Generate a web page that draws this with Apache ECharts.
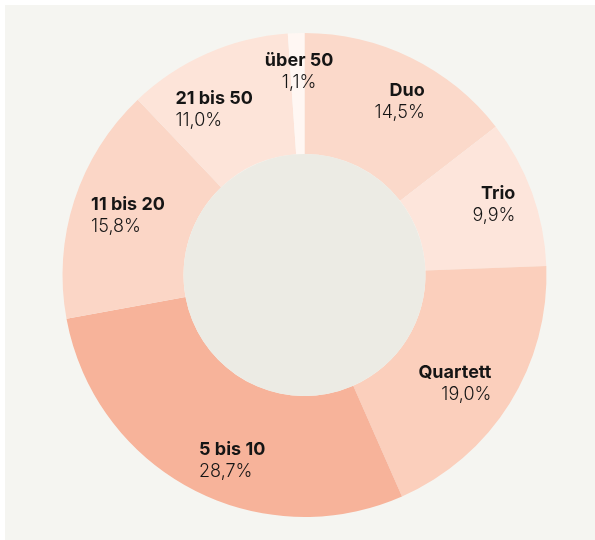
<!DOCTYPE html>
<html>
<head>
<meta charset="utf-8">
<script src="https://cdn.jsdelivr.net/npm/echarts@6/dist/echarts.min.js"></script>
<style>
  html, body { margin: 0; padding: 0; background: #fff; }
  #chart { position: absolute; left: 5px; top: 5px; width: 590px; height: 535px; }
</style>
</head>
<body>
<div id="chart"></div>
<script>
// Anteile nach Gruppengröße
var categories = ['Duo', 'Trio', 'Quartett', '5 bis 10', '11 bis 20', '21 bis 50', 'über 50']
var shares = [14.5, 9.9, 19.0, 28.7, 15.8, 11.0, 1.1]
var colors = ['#fbd9ca', '#fde5db', '#fbcfbc', '#f7b39a', '#fbd6c6', '#fde4d9', '#fff7f3']
// label placement tweaks (align of lines, offset from slice middle)
var labelAlign = ['r', 'r', 'r', 'l', 'l', 'l', 'c']
var labelOffset = [[14, -8], [16, -7], [-6, 11], [14, 23], [-1, -2], [-16, 3], [1, -19]]

var chart = echarts.init(document.getElementById('chart'))

var textBase = { fontFamily: 'Inter', fontSize: 18, lineHeight: 22, color: '#151515' }
var rich = {}
;['l', 'r', 'c'].forEach(function (a) {
  var al = a === 'l' ? 'left' : (a === 'r' ? 'right' : 'center')
  rich['n' + a] = Object.assign({}, textBase, { fontWeight: 'bold', align: al })
  rich['v' + a] = Object.assign({}, textBase, { fontWeight: 300, align: al })
})

var pieData = categories.map(function (name, i) {
  return {
    name: name,
    value: shares[i],
    itemStyle: { color: colors[i] },
    label: { offset: labelOffset[i] }
  }
})

chart.setOption({
  backgroundColor: '#f5f5f1',
  animation: false,
  series: [{
    type: 'pie',
    center: [299.5, 270],
    radius: [121, 242],
    startAngle: 90,
    clockwise: true,
    silent: true,
    itemStyle: { borderWidth: 0 },
    labelLine: { show: false },
    label: {
      show: true,
      position: 'inside',
      formatter: function (p) {
        var a = labelAlign[p.dataIndex]
        return '{n' + a + '|' + p.name + '}\n{v' + a + '|' + p.value.toFixed(1).replace('.', ',') + '%}'
      },
      rich: rich
    },
    data: pieData
  }, {
    // Mittelfläche
    type: 'pie',
    center: [299.5, 270],
    radius: [0, 121],
    silent: true,
    label: { show: false },
    labelLine: { show: false },
    itemStyle: { color: '#ecebe4' },
    data: [{ value: 1, name: '' }]
  }]
})
</script>
</body>
</html>
